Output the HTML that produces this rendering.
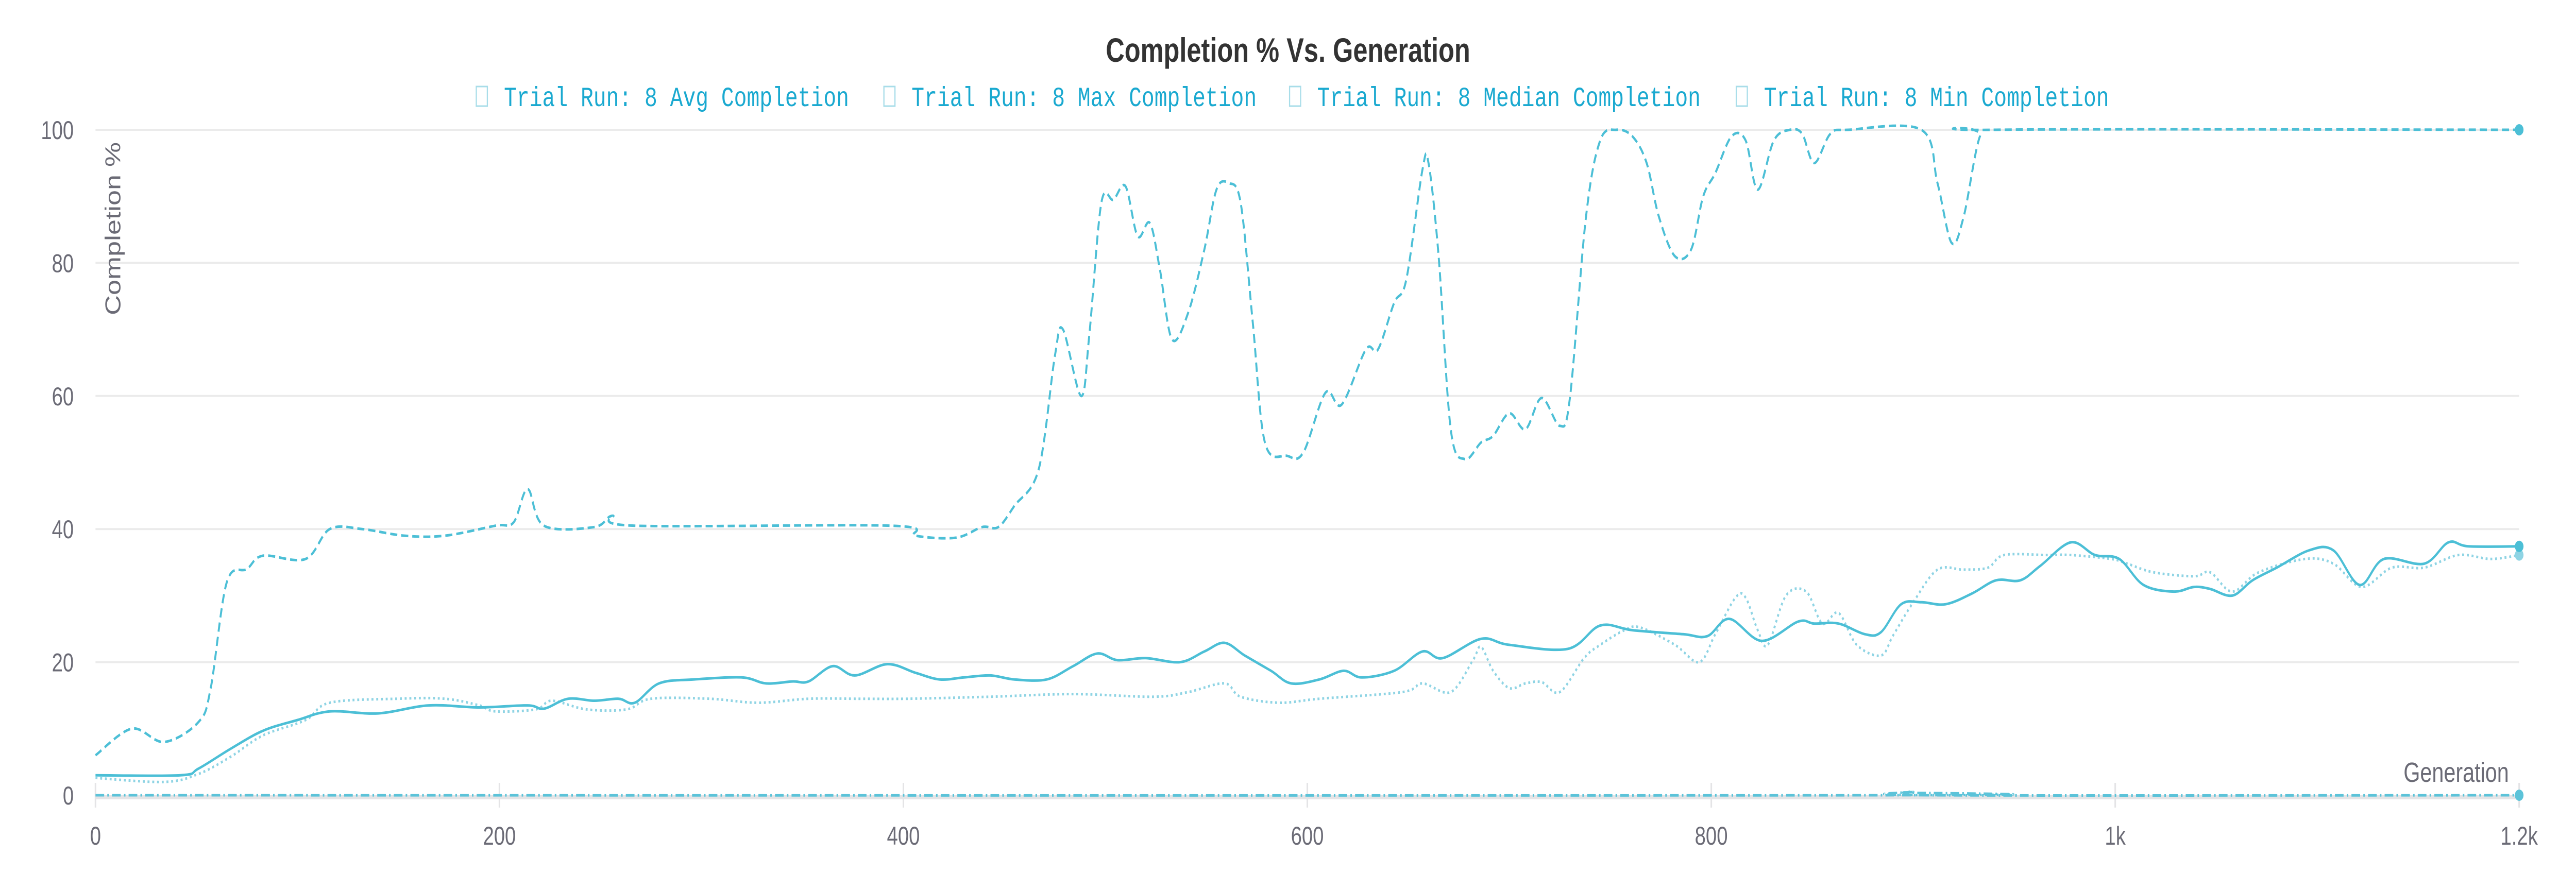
<!DOCTYPE html>
<html><head><meta charset="utf-8"><style>
html,body{margin:0;padding:0;background:#fff;width:100%;height:100%;overflow:hidden;}
svg{display:block;width:100vw;height:100vh;}
</style></head><body>
<svg id="chart" viewBox="0 0 6528 1728" preserveAspectRatio="none" xmlns="http://www.w3.org/2000/svg">
<text x="3264" y="120" text-anchor="middle" font-family="Liberation Sans, sans-serif" font-weight="bold" font-size="66" fill="#333">Completion % Vs. Generation</text>
<g id="legend" font-family="Liberation Mono, monospace" font-size="54" fill="#1aa9d0"></g>
<g id="grid"></g>
<g id="axes"></g>
<g id="series"></g>
<text transform="translate(305,612) rotate(-90)" font-family="Liberation Sans, sans-serif" font-size="54" fill="#6b6b76">Completion %</text>
<text x="6358" y="1518" text-anchor="end" font-family="Liberation Sans, sans-serif" font-size="54" fill="#6b6b76">Generation</text>
</svg>
<script>
const yTicks=[0,20,40,60,80,100];
const xTicks=[0,200,400,600,800,1000,1200];
const xTickLabels=["0","200","400","600","800","1k","1.2k"];
const seriesNames=["Trial Run: 8 Avg Completion","Trial Run: 8 Max Completion","Trial Run: 8 Median Completion","Trial Run: 8 Min Completion"];

const maxGen=[0,18,34,51,57,65,75,83,104,116,132,153,173,198,207,214,222,247,256,267,394,406,426,439,447,455,467,475,479,488,492,498,504,510,516,522,527,533,541,549,555,561,567,573,579,590,598,609,617,629,635,643,649,657,660,665,671,678,686,692,700,708,716,725,730,738,745,753,761,768,774,782,790,796,802,810,817,823,831,839,845,851,859,868,904,912,919,925,933,941,1200];
const maxVal=[6,10,8,11,16,32,34,36,35.5,40,40,39,39,40.5,41,46,40.5,40.3,42,40.5,40.5,39,38.7,40.3,40.3,43.5,49,66,70,60,69,89,89.5,91.5,84,86,79,68.5,72.5,82,91,92,89,71,53,51,51.5,60.5,58.7,67,67,74,77.5,94,95,81,55,50.5,53,54,57.4,55,59.7,55.5,59.7,87,98.4,100,99,95,87,81,82,90,93.5,99,98.4,91,98.4,100,99.4,95,99.4,100,100,92,83,87,99,100,100];

const avgGen=[0,42,51,67,83,100,116,140,165,190,214,222,234,247,259,267,279,296,320,332,345,353,365,376,392,406,418,430,443,455,471,484,496,506,520,537,549,559,569,582,592,606,618,627,643,657,667,686,700,729,745,761,786,798,809,825,843,851,863,876,884,894,904,916,929,941,953,963,978,990,1002,1014,1029,1039,1047,1058,1068,1080,1096,1108,1121,1133,1153,1165,1175,1200];
const avgVal=[3,3,4,7,9.7,11.3,12.6,12.3,13.5,13.2,13.5,13,14.5,14.2,14.5,13.9,16.8,17.4,17.7,16.8,17.1,17.1,19.4,18,19.7,18.4,17.4,17.7,18,17.4,17.4,19.4,21.3,20.3,20.6,20,21.6,22.9,21,18.7,16.8,17.4,18.7,17.7,18.7,21.6,20.6,23.5,22.6,22,25.5,24.8,24.2,23.9,26.5,23.2,26.1,25.8,25.8,24.2,24.5,28.7,29,28.7,30.3,32.3,32.3,34.5,38,36.1,35.5,31.6,30.6,31.3,31,30,32.3,34.2,36.8,36.8,31.6,35.5,34.8,38,37.4,37.4];

const medGen=[0,34,51,67,83,104,116,149,173,190,198,218,226,243,263,275,304,328,353,377,402,443,484,524,541,559,567,586,606,647,657,671,682,686,692,700,708,716,725,737,745,757,765,782,794,802,812,817,823,828,837,847,855,863,872,884,890,900,912,925,937,945,966,978,998,1006,1019,1039,1047,1058,1071,1094,1108,1122,1137,1153,1170,1186,1200];
const medVal=[2.6,2,3.2,5.8,9,11.3,13.9,14.5,14.5,13.5,12.6,12.9,14.2,12.9,12.9,14.5,14.5,13.9,14.5,14.5,14.5,14.8,15.2,14.8,15.5,16.8,14.8,13.9,14.5,15.5,16.8,15.5,20.3,22.3,18.7,16.1,16.8,17,15.5,20.6,22.6,24.8,25.2,22.6,20,24.2,29.7,29.7,24.8,22.6,30,30.6,25.8,27.4,22.6,21,24,29,33.9,33.9,34.2,36.1,36.1,36.1,35.5,34.8,33.5,32.9,33.5,30.6,33.5,35.5,34.8,31.3,34.2,34.2,36.1,35.5,36.1];

const minGen=[0,880,895,900,910,1200];
const minVal=[0,0,0.4,0.5,0,0];

const X0=242, XS=(6384-242)/1200, Y0=1544, YS=(1544-252)/100;
function xs(g){return X0+g*XS;}
function ys(v){return Y0-v*YS;}
const NS="http://www.w3.org/2000/svg";
function mk(t,a,p){const e=document.createElementNS(NS,t);for(const k in a)e.setAttribute(k,a[k]);p.appendChild(e);return e;}

const grid=document.getElementById('grid'), axes=document.getElementById('axes'), ser=document.getElementById('series'), leg=document.getElementById('legend');
yTicks.forEach(v=>{
  if(v>0){const l=mk('line',{x1:X0,x2:6384,y1:ys(v),y2:ys(v),stroke:'#ebebeb','stroke-width':4},grid);
  
  }
  const t=mk('text',{x:187,y:ys(v)+18,'text-anchor':'end','font-family':'Liberation Sans, sans-serif','font-size':50,fill:'#6b6b76'},axes);
  t.textContent=v;
  
  
});
const ax=mk('line',{x1:X0,x2:6384,y1:Y0+4,y2:Y0+4,stroke:'#e4e4e6','stroke-width':8},axes);


xTicks.forEach((g,i)=>{
  const tk=mk('line',{x1:xs(g),x2:xs(g),y1:Y0-24,y2:Y0+24,stroke:'#e4e4e6','stroke-width':4},axes);
  
  
  const t=mk('text',{x:xs(g),y:1640,'text-anchor':'middle','font-family':'Liberation Sans, sans-serif','font-size':50,fill:'#6b6b76'},axes);
  t.textContent=xTickLabels[i];
  
  
});

function pathFor(G,V){
  const P=G.map((g,i)=>[xs(g),ys(V[i])]);
  let d='M'+P[0][0]+','+P[0][1];
  for(let i=0;i<P.length-1;i++){
    const p0=P[Math.max(0,i-1)],p1=P[i],p2=P[i+1],p3=P[Math.min(P.length-1,i+2)];
    const c1=[p1[0]+(p2[0]-p0[0])/6,p1[1]+(p2[1]-p0[1])/6];
    const c2=[p2[0]-(p3[0]-p1[0])/6,p2[1]-(p3[1]-p1[1])/6];
    d+=' C'+c1[0].toFixed(1)+','+c1[1].toFixed(1)+' '+c2[0].toFixed(1)+','+c2[1].toFixed(1)+' '+p2[0].toFixed(1)+','+p2[1].toFixed(1);
  }
  return d;
}
const defs=[
 {G:minGen,V:minVal,c:'#5cc3d9',dash:'22,8,4,8',name:'min-completion-line'},
 {G:medGen,V:medVal,c:'#8fd4e4',dash:'5,7',name:'median-completion-line'},
 {G:avgGen,V:avgVal,c:'#4cbfd6',dash:'',name:'avg-completion-line'},
 {G:maxGen,V:maxVal,c:'#4cbfd6',dash:'18,10',name:'max-completion-line'}
];
defs.forEach(s=>{
  const a={d:pathFor(s.G,s.V),fill:'none',stroke:s.c,'stroke-width':5};
  if(s.dash)a['stroke-dasharray']=s.dash;
  const p=mk('path',a,ser);
  
  
  const n=s.G.length-1;
  const c=mk('circle',{cx:xs(s.G[n]),cy:ys(s.V[n]),r:11,fill:s.c},ser);
  
  
});

const legX=[1207,2240,3268,4400];
seriesNames.forEach((n,i)=>{
  const g=mk('g',{},leg);
  
  
  mk('rect',{x:legX[i],y:168,width:28,height:38,fill:'none',stroke:'#a8dde9','stroke-width':3},g);
  const t=mk('text',{x:legX[i]+70,y:206},g);
  t.textContent=n;
});
</script>
</body></html>
